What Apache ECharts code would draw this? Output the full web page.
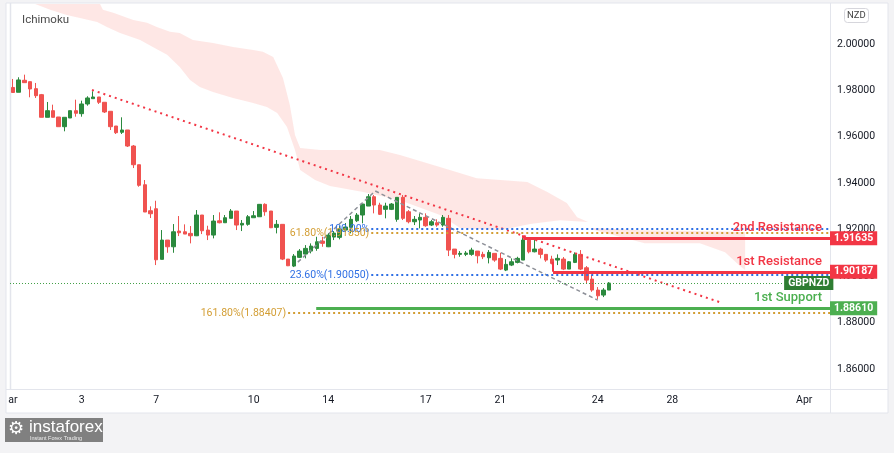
<!DOCTYPE html>
<html><head><meta charset="utf-8">
<script src="https://cdn.jsdelivr.net/npm/echarts@6/dist/echarts.min.js"></script>
<style>html,body{margin:0;padding:0;background:#f3f3f5}#c{width:894px;height:453px}</style>
</head><body><div id="c"></div>
<script>
// ---------- data ----------
const slotCount = 143;                       // 4H slots on the time axis (incl. future space)
const categories = Array.from({length: slotCount}, (_, i) => String(i));
const tickIndex = [0, 12, 25, 42, 55, 72, 85, 102, 115, 138];
const tickText  = ['ar', '3', '7', '10', '14', '17', '21', '24', '28', 'Apr'];

// [open, close, low, high]
const candles = [
[1.98125,1.97909,1.97900,1.98491],[1.97918,1.98448,1.97918,1.98564],[1.98435,1.98332,1.98332,1.98676],
[1.98375,1.98060,1.97702,1.98375],[1.98073,1.97771,1.97672,1.98319],[1.97815,1.96840,1.96840,1.97845],
[1.96840,1.97125,1.96840,1.97500],[1.97125,1.96840,1.96840,1.97384],[1.96853,1.96435,1.96435,1.96853],
[1.96435,1.96840,1.96237,1.96840],[1.96810,1.97125,1.96810,1.97125],[1.97125,1.97013,1.96866,1.97599],
[1.96996,1.97414,1.96866,1.97556],[1.97414,1.97672,1.97340,1.97746],[1.97642,1.97715,1.97642,1.97961],
[1.97715,1.97487,1.97414,1.97715],[1.97487,1.97069,1.97026,1.97487],[1.97099,1.96435,1.96293,1.97099],
[1.96465,1.96177,1.96120,1.96465],[1.96194,1.96293,1.96120,1.96840],[1.96293,1.95603,1.95560,1.96293],
[1.95603,1.94797,1.94654,1.95646],[1.94797,1.93910,1.93849,1.94797],[1.93935,1.92760,1.92760,1.94138],
[1.92815,1.92686,1.92501,1.93005],[1.92901,1.90703,1.90475,1.93246],[1.90721,1.91552,1.90721,1.91983],
[1.91552,1.91263,1.91005,1.91552],[1.91263,1.91909,1.91005,1.92242],[1.91940,1.91866,1.91724,1.92587],
[1.91909,1.91810,1.91810,1.92229],[1.91840,1.91737,1.91410,1.92156],[1.91737,1.92631,1.91724,1.92845],
[1.92631,1.91953,1.91810,1.92631],[1.91983,1.91767,1.91552,1.92169],[1.91767,1.92371,1.91625,1.92631],
[1.92384,1.92298,1.92272,1.92747],[1.92298,1.92514,1.92298,1.92631],[1.92488,1.92802,1.92488,1.92888],
[1.92802,1.92199,1.91983,1.92802],[1.92199,1.92272,1.91940,1.92415],[1.92229,1.92557,1.92169,1.92631],
[1.92514,1.92600,1.92514,1.92802],[1.92557,1.93091,1.92557,1.93104],[1.93091,1.92772,1.92600,1.93134],
[1.92802,1.92083,1.92069,1.92802],[1.92100,1.92229,1.91840,1.92415],[1.92229,1.90733,1.90690,1.92229],
[1.90733,1.90445,1.90432,1.90733],[1.90432,1.90863,1.90389,1.90949],[1.90807,1.91078,1.90777,1.91164],
[1.90949,1.91194,1.90764,1.91336],[1.91078,1.91293,1.90979,1.91410],[1.91194,1.91478,1.91091,1.91694],
[1.91509,1.91410,1.91263,1.91694],[1.91263,1.91767,1.91250,1.91853],[1.91681,1.91853,1.91552,1.91940],
[1.91668,1.92026,1.91582,1.92169],[1.91983,1.92113,1.91896,1.92285],[1.92100,1.92445,1.91840,1.92587],
[1.92384,1.92631,1.92328,1.92716],[1.92631,1.93104,1.92272,1.93104],[1.93017,1.93418,1.93017,1.93535],
[1.93418,1.93061,1.92703,1.93491],[1.93061,1.92660,1.92631,1.93160],[1.92875,1.93017,1.92488,1.93160],
[1.92875,1.93104,1.92845,1.93147],[1.92445,1.93392,1.92341,1.93392],[1.93392,1.92488,1.92415,1.93491],
[1.92772,1.92341,1.92272,1.92845],[1.92341,1.92445,1.92199,1.92587],[1.92415,1.92531,1.92056,1.92703],
[1.92531,1.92169,1.92126,1.92703],[1.92199,1.92341,1.92156,1.92415],[1.92298,1.92199,1.92126,1.92445],
[1.92199,1.92531,1.92126,1.92631],[1.92488,1.91121,1.90863,1.92631],[1.91164,1.90936,1.90764,1.91164],
[1.90936,1.90979,1.90833,1.91078],[1.90936,1.90992,1.90863,1.91078],[1.90936,1.91121,1.90876,1.91220],
[1.91078,1.90876,1.90548,1.91078],[1.90936,1.90833,1.90733,1.91048],[1.90790,1.91022,1.90548,1.91121],
[1.90979,1.90690,1.90617,1.90979],[1.90764,1.90302,1.90259,1.91005],[1.90259,1.90505,1.90216,1.90733],
[1.90475,1.90617,1.90432,1.90764],[1.90591,1.90764,1.90548,1.90833],[1.90690,1.91552,1.90690,1.91694],
[1.91552,1.91048,1.90979,1.91625],[1.91048,1.91164,1.91022,1.91552],[1.91164,1.90936,1.90764,1.91220],
[1.90936,1.90690,1.90617,1.90936],[1.90733,1.90548,1.90505,1.90876],[1.90690,1.90764,1.90475,1.90936],
[1.90733,1.90302,1.90259,1.90819],[1.90302,1.90617,1.90302,1.90648],[1.90591,1.90936,1.90561,1.91022],
[1.90936,1.90302,1.90259,1.91121],[1.90359,1.89828,1.89686,1.90432],[1.89871,1.89398,1.89324,1.90044],
[1.89398,1.89152,1.89010,1.89527],[1.89183,1.89398,1.89096,1.89484],[1.89398,1.89700,1.89398,1.89742]
];

// Ichimoku cloud edges: [time slot, price]
const cloudUpper = [[3.9,2.0172],[15.2,2.0172],[15.7,2.0147],[17.5,2.0134],[21.0,2.0103],[23.4,2.0091],[25.1,2.0073],
 [27.4,2.0052],[29.1,2.0047],[31.4,2.0017],[34.9,2.0004],[38.4,1.9987],[41.9,1.9974],[43.6,1.9966],[45.4,1.9944],
 [47.1,1.9853],[48.3,1.9737],[49.2,1.9608],[50.1,1.9552],[53.6,1.9543],[58.8,1.9543],[64.0,1.9543],[67.5,1.9522],
 [76.2,1.9457],[80.9,1.9422],[89.7,1.9405],[93.2,1.9362],[96.6,1.9315],[98.4,1.9254],[100.3,1.9233]];
const cloudLower = [[3.9,2.0172],[6.5,2.0147],[9.4,2.0125],[11.7,2.0112],[14.7,2.0095],[16.4,2.0073],[18.7,2.0047],
 [22.2,2.0017],[24.4,1.9987],[26.9,1.9953],[29.1,1.9901],[30.9,1.9845],[32.6,1.9815],[34.9,1.9793],[38.4,1.9767],
 [41.9,1.9746],[44.3,1.9728],[46.1,1.9703],[47.8,1.9642],[49.2,1.9543],[50.1,1.9457],[52.7,1.9414],[55.3,1.9388],
 [61.1,1.9362],[67.5,1.9327],[74.5,1.9263],[78.0,1.9207],[85.0,1.9198],[90.2,1.9224],[95.4,1.9241],[100.3,1.9233]];
const cloud2Upper = [[101.2,1.9207],[109.4,1.9198],[119.8,1.9194],[127.7,1.9190]];
const cloud2Lower = [[101.2,1.9200],[110.2,1.9142],[119.8,1.9142],[124.2,1.9103],[126.8,1.9043],[127.7,1.9026]];

// drawn lines: [time slot, price]
const trendRed  = [[13.8,1.98017],[123.6,1.88850]];
const trendGray = [[49.7,1.90604],[63.2,1.93664],[102.0,1.88966]];

const resistance2 = 1.91635, resistance1 = 1.90187, support1 = 1.88610, lastPrice = 1.89700;
const fib100 = 1.92020, fib618 = 1.91850, fib236 = 1.90050, fib1618 = 1.88407;
const startRes2 = 89.0, startRes1 = 94.2, startSup1 = 52.9, startFib = 62.5, startFib1618 = 48.0;
const endSlot = slotCount - 0.5, lastPriceEnd = 134.5;

// ---------- chart ----------
const RED = '#f23645', GREEN = '#4caf50', DGREEN = '#2e7d32', BLUE = '#2f6fe4', GOLD = '#d39e34';
const chart = echarts.init(document.getElementById('c'));

function seg(a, b, style, label) {
  return [{coord: a, lineStyle: style, label: label || {show: false}}, {coord: b}];
}
function tag(text, bg) {
  return {show: true, position: 'end', distance: 0, formatter: text, backgroundColor: bg, color: '#fff',
    fontSize: 10.5, fontWeight: 'bold', padding: [2, 4, 1, 4], fontFamily: 'Roboto'};
}
function note(text, color) {
  return {show: true, position: 'insideEndTop', distance: [8, 4], formatter: text, color: color,
    fontSize: 13, fontWeight: 500, fontFamily: 'Roboto'};
}
function fibLabel(text, color) {
  return {show: true, position: 'start', distance: 2, formatter: text, color: color, fontSize: 10.5, fontFamily: 'Roboto'};
}
const hidden = {color: 'rgba(0,0,0,0)', width: 1, type: 'solid'};

const markData = [
  seg(trendRed[0], trendRed[1], {color: RED, width: 2, type: [2, 4]}),
  seg(trendGray[0], trendGray[1], {color: '#8d9098', width: 1.5, type: [4, 3]}),
  seg(trendGray[1], trendGray[2], {color: '#8d9098', width: 1.5, type: [4, 3]}),
  seg([startFib, fib100], [endSlot, fib100], {color: BLUE, width: 2, type: [2, 3]}, fibLabel('100.00%', BLUE)),
  seg([startFib, fib618], [endSlot, fib618], {color: GOLD, width: 2, type: [2, 3]}, fibLabel('61.80%(1.91850)', GOLD)),
  seg([startFib, fib236], [endSlot, fib236], {color: BLUE, width: 2, type: [2, 3]}, fibLabel('23.60%(1.90050)', BLUE)),
  seg([startFib1618, fib1618], [endSlot, fib1618], {color: GOLD, width: 2, type: [2, 3]}, fibLabel('161.80%(1.88407)', GOLD)),
  seg([-0.5, lastPrice], [lastPriceEnd, lastPrice], {color: '#43a047', width: 1, type: [1, 2]}, tag('GBPNZD', DGREEN)),
  seg([startRes2, resistance2], [endSlot, resistance2], {color: RED, width: 3, type: 'solid'}, tag('1.91635', RED)),
  seg([startRes2, resistance2], [endSlot, resistance2], hidden, note('2nd Resistance', RED)),
  seg([startRes2, 1.9176], [startRes2, resistance2], {color: RED, width: 2, type: 'solid'}),
  seg([startRes1, resistance1], [endSlot, resistance1], {color: RED, width: 3, type: 'solid'}, tag('1.90187', RED)),
  seg([startRes1, resistance1], [endSlot, resistance1], hidden, note('1st Resistance', RED)),
  seg([startRes1, 1.9062], [startRes1, resistance1], {color: RED, width: 2, type: 'solid'}),
  seg([startSup1, support1], [endSlot, support1], {color: GREEN, width: 3, type: 'solid'}, tag('1.88610', GREEN)),
  seg([startSup1, support1], [endSlot, support1], hidden, note('1st Support', GREEN))
];

function cloudPoly(api, up, low) {
  const pts = up.map(p => api.coord(p)).concat(low.slice().reverse().map(p => api.coord(p)));
  return {type: 'polygon', shape: {points: pts}, style: {fill: 'rgba(244,67,54,0.13)'}};
}

chart.setOption({
  animation: false,
  backgroundColor: '#f3f3f5',
  textStyle: {fontFamily: 'Roboto'},
  title: [
    {text: 'Ichimoku', left: 17, top: 9, textStyle: {fontSize: 11.5, fontWeight: 'normal', color: '#4a4a4a', fontFamily: 'Roboto'}},
    {text: 'NZD', left: 844, top: 8, padding: [3, 3, 2, 3], borderColor: '#d6d6dc', borderWidth: 1, borderRadius: 3,
     textStyle: {fontSize: 9.5, fontWeight: 'normal', color: '#444', fontFamily: 'Roboto'}}
  ],
  graphic: [
    {type: 'rect', z: -10, shape: {x: 6, y: 3, width: 882, height: 410}, style: {fill: '#fff', stroke: '#e3e5ec', lineWidth: 1}},
    {type: 'line', z: -9, shape: {x1: 830.5, y1: 3, x2: 830.5, y2: 413}, style: {stroke: '#e3e5ec', lineWidth: 1}},
    {type: 'line', z: -9, shape: {x1: 6, y1: 389.5, x2: 888, y2: 389.5}, style: {stroke: '#e3e5ec', lineWidth: 1}},
    {type: 'line', z: -9, shape: {x1: 10.5, y1: 3, x2: 10.5, y2: 389}, style: {stroke: '#e3e5ec', lineWidth: 1.5}},
    {type: 'group', left: 5, top: 418, children: [
      {type: 'rect', shape: {x: 0, y: 0, width: 98, height: 24}, style: {fill: '#808080'}},
      {type: 'text', x: 3, y: 2, style: {text: '⚙', fill: '#fff', fontSize: 18, fontFamily: 'DejaVu Sans'}},
      {type: 'text', x: 24, y: 1, style: {text: 'instaforex', fill: '#fff', fontSize: 17, fontFamily: 'Liberation Sans Narrow, Liberation Sans, sans-serif'}},
      {type: 'text', x: 25, y: 17, style: {text: 'Instant Forex Trading', fill: '#eee', fontSize: 5.5, fontFamily: 'Liberation Sans'}}
    ]}
  ],
  grid: {left: 10, right: 64, top: 4, bottom: 37.6, containLabel: false},
  xAxis: [
    {type: 'category', data: categories, boundaryGap: true, position: 'bottom', offset: -26.4,
     axisLine: {show: false}, axisTick: {show: false}, splitLine: {show: false},
     axisLabel: {interval: (i) => tickIndex.includes(i), formatter: (v, i) => tickText[tickIndex.indexOf(i)] || '',
       color: '#131722', fontSize: 10.5, margin: 6}},
    {type: 'value', min: -0.5, max: slotCount - 0.5, show: false}
  ],
  yAxis: {type: 'value', position: 'right', min: 1.84, max: 2.0172, interval: 0.02, scale: true,
    axisLine: {show: false}, axisTick: {show: false}, splitLine: {show: false},
    axisLabel: {showMaxLabel: false, formatter: v => v < 1.85 ? '' : v.toFixed(5), color: '#131722', fontSize: 10.5, margin: 7}},
  series: [
    {type: 'custom', xAxisIndex: 1, yAxisIndex: 0, z: 1, silent: true, data: [[50, 1.95]],
     renderItem: (params, api) => {
       const cs = params.coordSys;
       return {type: 'group', clipPath: {type: 'rect', shape: {x: cs.x, y: cs.y, width: cs.width, height: cs.height}},
         children: [cloudPoly(api, cloudUpper, cloudLower), cloudPoly(api, cloud2Upper, cloud2Lower)]};
     }},
    {type: 'candlestick', xAxisIndex: 0, yAxisIndex: 0, z: 3, barWidth: 4, data: candles,
     itemStyle: {color: '#2b8a3e', color0: '#f05350', borderColor: '#2b8a3e', borderColor0: '#f05350', borderWidth: 1}},
    {type: 'line', xAxisIndex: 1, yAxisIndex: 0, z: 4, data: [], silent: true,
     markLine: {silent: true, symbol: ['none', 'none'], label: {show: false}, animation: false, data: markData}}
  ]
});
</script></body></html>
